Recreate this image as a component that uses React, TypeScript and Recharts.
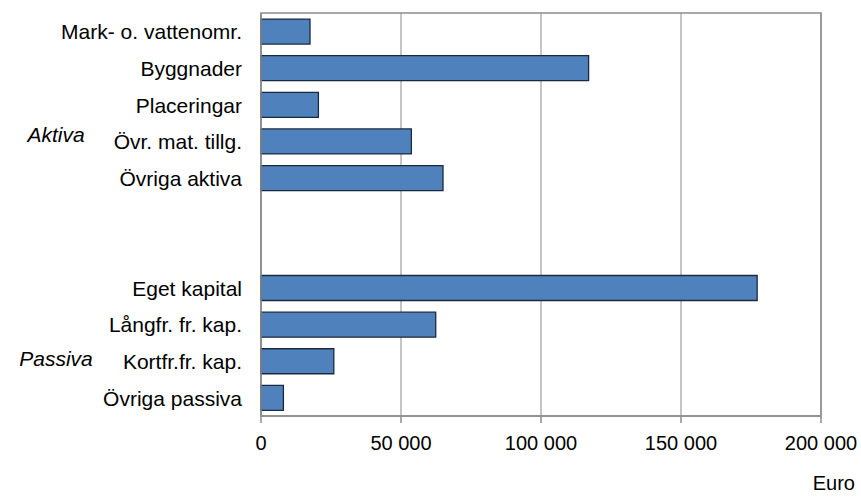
import { BarChart, Bar, XAxis, YAxis, CartesianGrid, ReferenceArea } from 'recharts'

const CATEGORIES = [
  'Mark- o. vattenomr.',
  'Byggnader',
  'Placeringar',
  'Övr. mat. tillg.',
  'Övriga aktiva',
  '',
  ' ',
  'Eget kapital',
  'Långfr. fr. kap.',
  'Kortfr.fr. kap.',
  'Övriga passiva',
]
const VALUES = [17500, 117000, 20500, 53700, 65000, null, null, 177200, 62400, 26000, 8000]
const GROUPS: Record<string, string> = { 'Övr. mat. tillg.': 'Aktiva', 'Kortfr.fr. kap.': 'Passiva' }
const X_TICKS = [0, 50000, 100000, 150000, 200000]

const data = CATEGORIES.map((name, i) => ({ name, value: VALUES[i] }))

const FONT = '"Liberation Sans", Arial, sans-serif'
const fmt = (v: number) => v.toLocaleString('en-US').replace(/,/g, ' ')

const CategoryTick = (props: any) => {
  const { y, payload } = props
  const group = GROUPS[payload.value]
  return (
    <g>
      <text x={242} y={y} dy={8} textAnchor="end" fontSize={21} fontFamily={FONT} fill="#000">
        {payload.value}
      </text>
      {group && (
        <text x={56} y={y} dy={payload.value === 'Övr. mat. tillg.' ? 1 : 5} textAnchor="middle" fontSize={21} fontStyle="italic" fontFamily={FONT} fill="#000">
          {group}
        </text>
      )}
    </g>
  )
}

export default function App() {
  return (
    <div style={{ position: 'absolute', left: 0, top: 0, background: '#fff' }}>
      <BarChart
        width={861}
        height={498}
        data={data}
        layout="vertical"
        margin={{ top: 13, right: 40, bottom: 0, left: 0 }}
        barCategoryGap="16.5%"
      >
        <CartesianGrid horizontal={false} stroke="#a6a6a6" strokeWidth={1.3} />
        <ReferenceArea x1={0} x2={200000} fill="none" stroke="#8c8c8c" strokeWidth={1.5} fillOpacity={0} />
        <XAxis
          type="number"
          domain={[0, 200000]}
          ticks={X_TICKS}
          tickFormatter={fmt}
          height={82}
          tickSize={7}
          tickMargin={13}
          stroke="#8c8c8c"
          strokeWidth={1.5}
          tick={{ fontSize: 20, fill: '#000', fontFamily: FONT }}
          label={() => (
            <text x={855} y={490} textAnchor="end" fontSize={20} fontFamily={FONT} fill="#000">
              Euro
            </text>
          )}
        />
        <YAxis
          type="category"
          dataKey="name"
          width={261}
          tickLine={false}
          stroke="#8c8c8c"
          strokeWidth={1.5}
          tick={<CategoryTick />}
          interval={0}
        />
        <Bar dataKey="value" fill="#4f81bd" stroke="#1b2a40" strokeWidth={1.3} isAnimationActive={false} />
      </BarChart>
    </div>
  )
}
